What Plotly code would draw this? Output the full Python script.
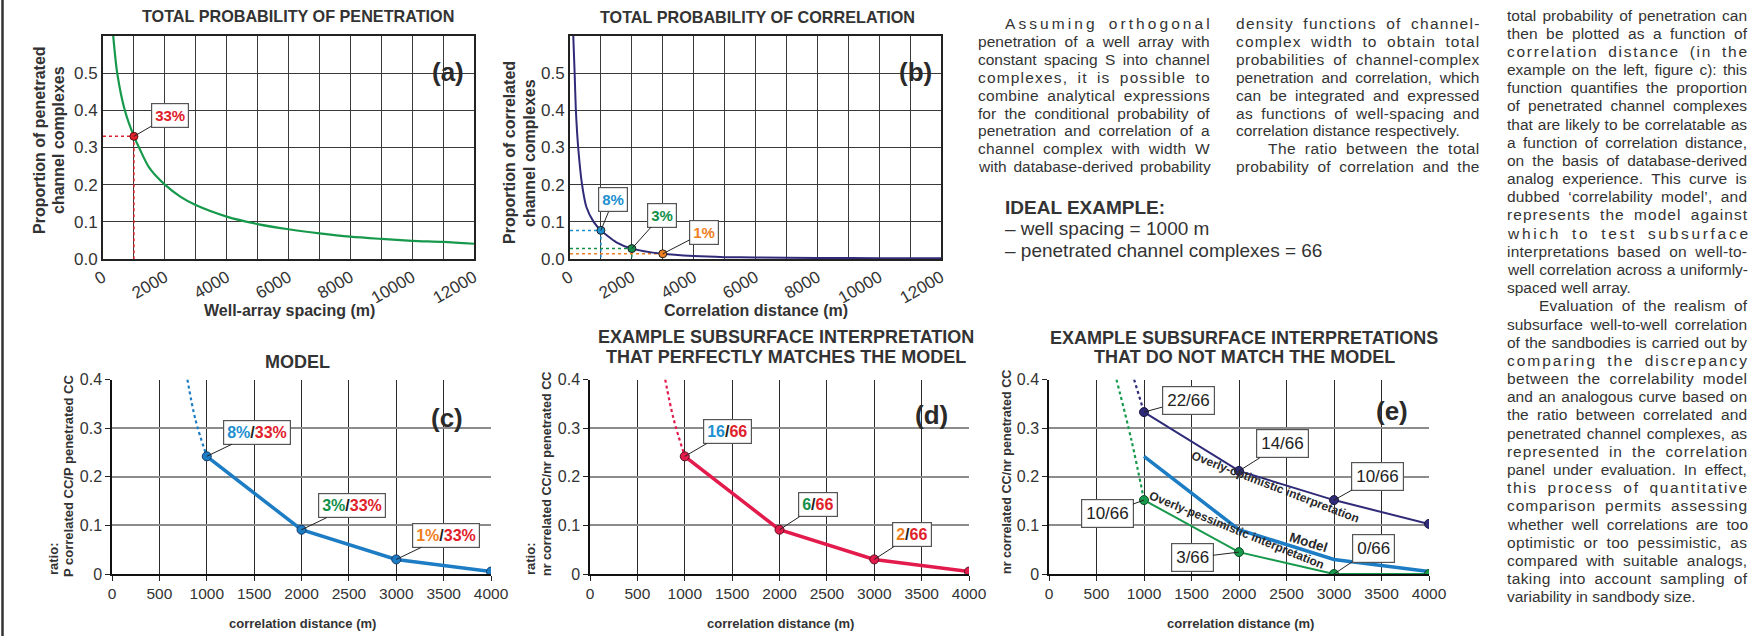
import plotly.graph_objects as go

# ---------------- data ----------------
# (a) total probability of penetration
pen_spacing = [331, 460, 705, 1000, 1165, 1500, 2000, 2500, 3000, 4000, 5000,
               6000, 7000, 8000, 9000, 10000, 11000, 12000]
pen_prob = [0.60, 0.50, 0.40, 0.33, 0.30, 0.245, 0.20, 0.168, 0.145, 0.114,
            0.094, 0.080, 0.069, 0.060, 0.054, 0.049, 0.046, 0.041]
pen_example_x = [1000]
pen_example_y = [0.33]
pen_example_lbl = ["33%"]

# (b) total probability of correlation
corr_dist = [106, 150, 190, 265, 390, 530, 765, 1000, 1500, 2000, 3000, 4000,
             5000, 6000, 8000, 10000, 12000]
corr_prob = [0.60, 0.50, 0.40, 0.30, 0.20, 0.14, 0.10, 0.077, 0.045, 0.028,
             0.014, 0.008, 0.005, 0.004, 0.003, 0.002, 0.002]
corr_example_x = [1000, 2000, 3000]
corr_example_y = [0.077, 0.028, 0.014]
corr_example_lbl = ["8%", "3%", "1%"]

top_x_ticks = [0, 2000, 4000, 6000, 8000, 10000, 12000]
top_x_labels = ["0", "2000", "4000", "6000", "8000", "10000", "12000"]
top_y_ticks = [0, 0.1, 0.2, 0.3, 0.4, 0.5]

# (c) model
dist_pts = [1000, 2000, 3000, 4000]
model_ratio = [0.242, 0.091, 0.030, 0.005]
model_ext_dist = [796, 880, 1000]
model_ext_ratio = [0.40, 0.318, 0.242]
model_num = ["8%", "3%", "1%"]
model_den = "33%"

# (d) interpretation that matches the model
match_ratio = [0.242, 0.091, 0.030, 0.005]
match_ext_dist = [794, 881, 1000]
match_ext_ratio = [0.40, 0.32, 0.242]
match_num = ["16", "6", "2"]
match_den = "66"

# (e) interpretations that do not match the model
opt_ratio = [0.333, 0.212, 0.152, 0.103]
opt_ext_dist = [896, 1000]
opt_ext_ratio = [0.40, 0.333]
opt_lbl = ["22/66", "14/66", "10/66"]
pes_ratio = [0.152, 0.045, 0.0, 0.0]
pes_ext_dist = [710, 868, 1000]
pes_ext_ratio = [0.40, 0.275, 0.152]
pes_lbl = ["10/66", "3/66", "0/66"]

# text
col1_lines = [
    "Assuming orthogonal",
    "penetration of a well array with",
    "constant spacing S into channel",
    "complexes, it is possible to",
    "combine analytical expressions",
    "for the conditional probability of",
    "penetration and correlation of a",
    "channel complex with width W",
    "with database-derived probability",
]
col2_lines = [
    "density functions of channel-",
    "complex width to obtain total",
    "probabilities of channel-complex",
    "penetration and correlation, which",
    "can be integrated and expressed",
    "as functions of well-spacing and",
    "correlation distance respectively.",
    "The ratio between the total",
    "probability of correlation and the",
]
col3_lines = [
    "total probability of penetration can",
    "then be plotted as a function of",
    "correlation distance (in the",
    "example on the left, figure c): this",
    "function quantifies the proportion",
    "of penetrated channel complexes",
    "that are likely to be correlatable as",
    "a function of correlation distance,",
    "on the basis of database-derived",
    "analog experience. This curve is",
    "dubbed \u2018correlability model\u2019, and",
    "represents the model against",
    "which to test subsurface",
    "interpretations based on well-to-",
    "well correlation across a uniformly-",
    "spaced well array.",
    "Evaluation of the realism of",
    "subsurface well-to-well correlation",
    "of the sandbodies is carried out by",
    "comparing the discrepancy",
    "between the correlability model",
    "and an analogous curve based on",
    "the ratio between correlated and",
    "penetrated channel complexes, as",
    "represented in the correlation",
    "panel under evaluation. In effect,",
    "this process of quantitative",
    "comparison permits assessing",
    "whether well correlations are too",
    "optimistic or too pessimistic, as",
    "compared with suitable analogs,",
    "taking into account sampling of",
    "variability in sandbody size.",
]
ideal_title = "IDEAL EXAMPLE:"
ideal_lines = ["\u2013 well spacing = 1000 m", "\u2013 penetrated channel complexes = 66"]

# ---------------- style ----------------
W, H = 1749, 636
FONT = "Liberation Sans, Arial, sans-serif"
TXT = "#333333"
GREEN_A = "#17994c"
NAVY = "#2f2b78"
RED = "#e0202a"
BLUE_L = "#1e90d0"
GREEN_L = "#12904a"
ORANGE = "#ee7f1e"
MODEL_BLUE = "#1c7cc4"
D_RED = "#e31b4c"
PES_GREEN = "#17994c"
GRID_D = "#3a3a3a"
GRID_G = "#8c8c8c"
num_colors = [BLUE_L, GREEN_L, ORANGE]


def pxx(x):
    return x / W


def pyy(y):
    return 1 - y / H


fig = go.Figure()

# ---- (a) ----
for i in range(len(pen_example_x)):
    fig.add_trace(go.Scatter(x=[0, pen_example_x[i]], y=[pen_example_y[i]] * 2, mode="lines",
                             line=dict(color=RED, width=1.5, dash="dot"), xaxis="x", yaxis="y"))
    fig.add_trace(go.Scatter(x=[pen_example_x[i]] * 2, y=[pen_example_y[i], 0], mode="lines",
                             line=dict(color=RED, width=1.5, dash="dot"), xaxis="x", yaxis="y"))
fig.add_trace(go.Scatter(x=pen_spacing, y=pen_prob, mode="lines",
                         line=dict(color=GREEN_A, width=2.2, shape="spline", smoothing=0.8),
                         xaxis="x", yaxis="y"))
fig.add_trace(go.Scatter(x=pen_example_x, y=pen_example_y, mode="markers",
                         marker=dict(size=8, color=RED, line=dict(color="#5a1010", width=1)),
                         xaxis="x", yaxis="y"))

# ---- (b) ----
for i in range(len(corr_example_x)):
    fig.add_trace(go.Scatter(x=[0, corr_example_x[i]], y=[corr_example_y[i]] * 2, mode="lines",
                             line=dict(color=num_colors[i], width=1.5, dash="dot"), xaxis="x2", yaxis="y2"))
    fig.add_trace(go.Scatter(x=[corr_example_x[i]] * 2, y=[corr_example_y[i], 0], mode="lines",
                             line=dict(color=num_colors[i], width=1.5, dash="dot"), xaxis="x2", yaxis="y2"))
fig.add_trace(go.Scatter(x=corr_dist, y=corr_prob, mode="lines",
                         line=dict(color=NAVY, width=2, shape="spline", smoothing=0.6),
                         xaxis="x2", yaxis="y2"))
fig.add_trace(go.Scatter(x=corr_example_x, y=corr_example_y, mode="markers",
                         marker=dict(size=8, color=num_colors, line=dict(color="#222", width=1)),
                         xaxis="x2", yaxis="y2"))

# ---- (c) ----
fig.add_trace(go.Scatter(x=model_ext_dist, y=model_ext_ratio, mode="lines",
                         line=dict(color=MODEL_BLUE, width=2.2, dash="dot", shape="spline"),
                         xaxis="x3", yaxis="y3"))
fig.add_trace(go.Scatter(x=dist_pts, y=model_ratio, mode="lines+markers",
                         line=dict(color=MODEL_BLUE, width=3.5),
                         marker=dict(size=9, color=MODEL_BLUE, line=dict(color="#173a66", width=1)),
                         xaxis="x3", yaxis="y3"))

# ---- (d) ----
fig.add_trace(go.Scatter(x=match_ext_dist, y=match_ext_ratio, mode="lines",
                         line=dict(color=D_RED, width=2.2, dash="dot", shape="spline"),
                         xaxis="x4", yaxis="y4"))
fig.add_trace(go.Scatter(x=dist_pts, y=match_ratio, mode="lines+markers",
                         line=dict(color=D_RED, width=3.5),
                         marker=dict(size=9, color=D_RED, line=dict(color="#5a1020", width=1)),
                         xaxis="x4", yaxis="y4"))

# ---- (e) ----
fig.add_trace(go.Scatter(x=opt_ext_dist, y=opt_ext_ratio, mode="lines",
                         line=dict(color=NAVY, width=2.2, dash="dot"), xaxis="x5", yaxis="y5"))
fig.add_trace(go.Scatter(x=pes_ext_dist, y=pes_ext_ratio, mode="lines",
                         line=dict(color=PES_GREEN, width=2.2, dash="dot", shape="spline"),
                         xaxis="x5", yaxis="y5"))
fig.add_trace(go.Scatter(x=dist_pts, y=model_ratio, mode="lines",
                         line=dict(color=MODEL_BLUE, width=3.5), xaxis="x5", yaxis="y5"))
fig.add_trace(go.Scatter(x=dist_pts, y=opt_ratio, mode="lines+markers",
                         line=dict(color=NAVY, width=2),
                         marker=dict(size=9, color=NAVY, line=dict(color="#1a1840", width=1)),
                         xaxis="x5", yaxis="y5"))
fig.add_trace(go.Scatter(x=dist_pts, y=pes_ratio, mode="lines+markers",
                         line=dict(color=PES_GREEN, width=2),
                         marker=dict(size=9, color=PES_GREEN, line=dict(color="#0d4d26", width=1)),
                         xaxis="x5", yaxis="y5"))

# ---------------- axes ----------------
TOP_Y = [36, 259]
BOT_Y = [379.5, 574]


def dom_x(a, b):
    return [pxx(a), pxx(b)]


def dom_y(a, b):
    return [pyy(b), pyy(a)]


def top_x(a, b, anchor):
    return dict(domain=dom_x(a, b), anchor=anchor, range=[0, 12000], tickmode="array",
                tickvals=top_x_ticks, ticktext=top_x_labels,
                tickangle=-30, tickfont=dict(size=17, color=TXT, family=FONT),
                showgrid=True, gridcolor=GRID_D, gridwidth=1.2,
                minor=dict(tickmode="linear", tick0=0, dtick=1000, showgrid=True,
                           gridcolor=GRID_D, gridwidth=1.2),
                showline=True, mirror=True, linecolor="#222", linewidth=2,
                zeroline=False, ticks="", fixedrange=True, automargin=False)


def top_y(anchor):
    return dict(domain=dom_y(*TOP_Y), anchor=anchor, range=[0, 0.6], tickmode="array",
                tickvals=top_y_ticks, tickformat=".1f",
                tickfont=dict(size=17, color=TXT, family=FONT),
                showgrid=True, gridcolor=GRID_D, gridwidth=1.2,
                showline=True, mirror=True, linecolor="#222", linewidth=2,
                zeroline=False, ticks="", fixedrange=True, automargin=False)


def bot_x(a, b, anchor):
    return dict(domain=dom_x(a, b), anchor=anchor, range=[0, 4000], tickmode="linear",
                tick0=0, dtick=500, exponentformat="none",
                tickfont=dict(size=15.5, color=TXT, family=FONT),
                showgrid=True, gridcolor="#2b2b2b", gridwidth=1,
                showline=True, linecolor="#111", linewidth=1.5, ticks="outside",
                ticklen=5, tickwidth=1.2, tickcolor="#222",
                zeroline=False, fixedrange=True, automargin=False)


def bot_y(anchor):
    return dict(domain=dom_y(*BOT_Y), anchor=anchor, range=[0, 0.4], tickmode="linear",
                tick0=0, dtick=0.1, tickfont=dict(size=16, color=TXT, family=FONT),
                showgrid=True, gridcolor=GRID_G, gridwidth=2,
                showline=True, linecolor="#111", linewidth=1.5, ticks="outside",
                ticklen=5, tickwidth=1.2, tickcolor="#222",
                zeroline=False, fixedrange=True, automargin=False)


# ---------------- annotations ----------------
ann = []


def text_ann(x, y, text, size, bold=False, color=TXT, angle=0,
             xanchor="center", yanchor="middle", xref="paper", yref="paper"):
    t = "<b>" + text + "</b>" if bold else text
    return dict(x=x, y=y, xref=xref, yref=yref, text=t, showarrow=False, textangle=angle,
                font=dict(size=size, family=FONT, color=color),
                xanchor=xanchor, yanchor=yanchor, borderpad=0)


def box_ann(x, y, xref, yref, text, ax, ay, size=16, bold=True, pad=3):
    t = "<b>" + text + "</b>" if bold else text
    return dict(x=x, y=y, xref=xref, yref=yref, text=t, showarrow=True, arrowhead=0,
                arrowwidth=1, arrowcolor="#222", ax=ax, ay=ay, standoff=0,
                font=dict(size=size, family=FONT, color="#222"), bgcolor="white",
                bordercolor="#555", borderwidth=1.2, borderpad=pad)


def span(txt, col):
    return "<span style='color:%s'>%s</span>" % (col, txt)


# panel titles
ann.append(text_ann(pxx(298), pyy(16), "TOTAL PROBABILITY OF PENETRATION", 16.2, True))
ann.append(text_ann(pxx(757.5), pyy(17), "TOTAL PROBABILITY OF CORRELATION", 16.2, True))
ann.append(text_ann(pxx(297.5), pyy(362), "MODEL", 18, True))
ann.append(text_ann(pxx(786), pyy(337), "EXAMPLE SUBSURFACE INTERPRETATION", 18, True))
ann.append(text_ann(pxx(786), pyy(357), "THAT PERFECTLY MATCHES THE MODEL", 18, True))
ann.append(text_ann(pxx(1244), pyy(337.5), "EXAMPLE SUBSURFACE INTERPRETATIONS", 18, True))
ann.append(text_ann(pxx(1244), pyy(357), "THAT DO NOT MATCH THE MODEL", 18, True))

# axis titles
ann.append(text_ann(pxx(289), pyy(310.5), "Well-array spacing (m)", 16, True))
ann.append(text_ann(pxx(40), pyy(140), "Proportion of penetrated", 16, True, angle=-90))
ann.append(text_ann(pxx(59), pyy(140), "channel complexes", 16, True, angle=-90))
ann.append(text_ann(pxx(755.7), pyy(310), "Correlation distance (m)", 16, True))
ann.append(text_ann(pxx(509), pyy(153), "Proportion of correlated", 16, True, angle=-90))
ann.append(text_ann(pxx(529), pyy(153), "channel complexes", 16, True, angle=-90))

for cx in (302.7, 780.7, 1240):
    ann.append(text_ann(pxx(cx), pyy(623), "correlation distance (m)", 13, True))
ann.append(text_ann(pxx(53), pyy(559), "ratio:", 13, True, angle=-90))
ann.append(text_ann(pxx(69), pyy(476), "P correlated CC/P penetrated CC", 13, True, angle=-90))
ann.append(text_ann(pxx(530), pyy(559), "ratio:", 13, True, angle=-90))
ann.append(text_ann(pxx(547), pyy(474), "nr correlated CC/nr penetrated CC", 12.6, True, angle=-90))
ann.append(text_ann(pxx(1007), pyy(472), "nr correlated CC/nr penetrated CC", 12.6, True, angle=-90))

# panel letters
for (lx, ly, lt) in [(448, 72, "(a)"), (915, 72, "(b)"), (447, 418, "(c)"),
                     (931.5, 415, "(d)"), (1392, 411, "(e)")]:
    ann.append(text_ann(pxx(lx), pyy(ly), lt, 26, True, color="#2a2a2a"))

# point labels (a), (b)
ann.append(box_ann(pen_example_x[0], pen_example_y[0], "x", "y",
                   span(pen_example_lbl[0], RED), 35.6, -20.7, size=15))
b_off = [(12.5, -30.5), (30, -33.5), (41.5, -21.5)]
for i in range(3):
    ann.append(box_ann(corr_example_x[i], corr_example_y[i], "x2", "y2",
                       span(corr_example_lbl[i], num_colors[i]), b_off[i][0], b_off[i][1], size=15))
# (c)
for i in range(3):
    ann.append(box_ann(dist_pts[i], model_ratio[i], "x3", "y3",
                       span(model_num[i], num_colors[i]) + "/" + span(model_den, RED), 50, -24))
# (d)
d_off = [(42.7, -24.8), (38.3, -25), (38, -24.6)]
for i in range(3):
    ann.append(box_ann(dist_pts[i], match_ratio[i], "x4", "y4",
                       span(match_num[i], num_colors[i]) + "/" + span(match_den, RED),
                       d_off[i][0], d_off[i][1]))
# (e)
e_opt_off = [(44, -12), (43, -27), (43, -24)]
e_pes_off = [(-37, 13.6), (-47, 5.7), (39, -26)]
for i in range(3):
    ann.append(box_ann(dist_pts[i], opt_ratio[i], "x5", "y5", opt_lbl[i],
                       e_opt_off[i][0], e_opt_off[i][1], size=17, bold=False, pad=4))
    ann.append(box_ann(dist_pts[i], pes_ratio[i], "x5", "y5", pes_lbl[i],
                       e_pes_off[i][0], e_pes_off[i][1], size=17, bold=False, pad=4))

ann.append(text_ann(2381, 0.179, "Overly-optimistic interpretation", 12, True,
                    color="#2a2a2a", angle=21, xref="x5", yref="y5"))
ann.append(text_ann(1970, 0.09, "Overly-pessimistic interpretation", 12, True,
                    color="#2a2a2a", angle=22, xref="x5", yref="y5"))
ann.append(text_ann(2736, 0.065, "Model", 13.5, True, color="#2a2a2a", angle=17,
                    xref="x5", yref="y5"))

# ---------------- body text (justified) ----------------
AW = {}
for chars, w in [("ijl\u2018\u2019", 222), (" !,./:;I[]ft", 278), ("-()r", 333),
                 ("cksvxyzJ", 500), ("abdeghnopqu0123456789$?#_\u2013", 556),
                 ("+<=>~", 584), ("FTZ", 611), ("L", 556), ("ABEKPSVXY&", 667),
                 ("CDHNRUw", 722), ("GOQ", 778), ("Mm", 833), ("%", 889), ("W", 944),
                 ("'", 191)]:
    for ch in chars:
        AW[ch] = w


def text_width(s, fs):
    return sum(AW.get(ch, 556) for ch in s) * fs / 1000.0


BODY_FS = 15.5


def add_column(lines, left, right, y0, dy, indents, nojust):
    for i, line in enumerate(lines):
        ind = indents.get(i, 0)
        x0 = left + ind
        target = right - x0
        style = ""
        if i not in nojust:
            extra = target - text_width(line, BODY_FS)
            ns = line.count(" ")
            ws = min(extra / ns, 0.25 * BODY_FS) if ns > 0 else 0.0
            if ws < 0:
                ws = 0.0
            ls = (extra - ws * ns) / max(len(line) - 1, 1)
            style = "letter-spacing:%.3fpx;word-spacing:%.3fpx" % (ls, ws)
        txt = "<span style='%s'>%s</span>" % (style, line) if style else line
        ann.append(dict(x=pxx(x0), y=pyy(y0 + i * dy), xref="paper", yref="paper", text=txt,
                        showarrow=False, xanchor="left", yanchor="middle", align="left",
                        font=dict(size=BODY_FS, family=FONT, color=TXT), borderpad=0))


add_column(col1_lines, 976.7, 1208.3, 24, 17.83, {0: 27}, set())
add_column(col2_lines, 1235, 1478.3, 24, 17.83, {7: 32}, {6})
add_column(col3_lines, 1506, 1746, 15, 18.18, {16: 32}, {15, 32})

ann.append(dict(x=pxx(1004), y=pyy(207), xref="paper", yref="paper", text="<b>" + ideal_title + "</b>",
                showarrow=False, xanchor="left", yanchor="middle",
                font=dict(size=19, family=FONT, color=TXT), borderpad=0))
for i, l in enumerate(ideal_lines):
    ann.append(dict(x=pxx(1004), y=pyy(229 + i * 21.7), xref="paper", yref="paper", text=l,
                    showarrow=False, xanchor="left", yanchor="middle",
                    font=dict(size=19, family=FONT, color=TXT), borderpad=0))

# ---------------- shapes ----------------
shapes = []
for (x0, x1, y0, y1) in [(422, 474, 36, 98), (888, 941, 36, 98), (425, 470, 398, 442),
                         (910, 954, 390, 438), (1372, 1412, 388, 436)]:
    shapes.append(dict(type="rect", xref="paper", yref="paper", x0=pxx(x0), x1=pxx(x1),
                       y0=pyy(y1), y1=pyy(y0), fillcolor="white", line=dict(width=0),
                       layer="between"))
shapes.append(dict(type="line", xref="paper", yref="paper", x0=pxx(2.5), x1=pxx(2.5),
                   y0=0, y1=1, line=dict(color="#333", width=2.5)))

fig.update_layout(
    width=W, height=H, margin=dict(l=0, r=0, t=0, b=0), autosize=False,
    paper_bgcolor="white", plot_bgcolor="white", showlegend=False, hovermode=False,
    font=dict(family=FONT, color=TXT),
    xaxis=top_x(103, 474, "y"), yaxis=top_y("x"),
    xaxis2=top_x(570, 941, "y2"), yaxis2=top_y("x2"),
    xaxis3=bot_x(112, 491, "y3"), yaxis3=bot_y("x3"),
    xaxis4=bot_x(590, 969, "y4"), yaxis4=bot_y("x4"),
    xaxis5=bot_x(1049, 1429, "y5"), yaxis5=bot_y("x5"),
    annotations=ann, shapes=shapes,
)

fig.write_html("out.html")
